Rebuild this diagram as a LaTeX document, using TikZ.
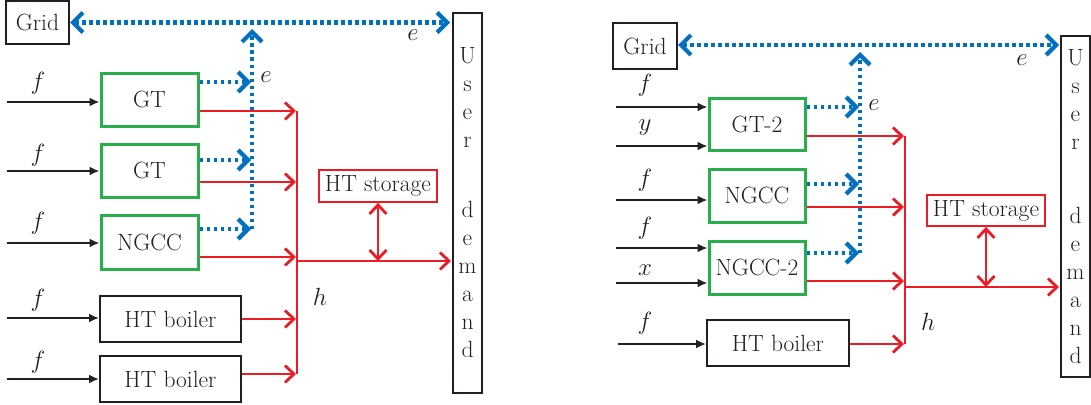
\documentclass[tikz,border=0pt]{standalone}
\usetikzlibrary{arrows.meta}
\definecolor{ered}{RGB}{237,28,36}
\definecolor{eblue}{RGB}{0,112,192}
\definecolor{egreen}{RGB}{40,175,75}
\definecolor{eblack}{RGB}{35,31,32}
\begin{document}
\begin{tikzpicture}[x=1pt,y=-1pt,
  every node/.style={font=\fontsize{23.5}{28}\selectfont, text=eblack},
  blk/.style={draw=eblack, line width=2pt, inner sep=0pt},
  grn/.style={draw=egreen, line width=3pt, inner sep=0pt, minimum width=97pt, minimum height=53pt},
  stor/.style={draw=ered, line width=1.8pt, inner sep=0pt, minimum width=118pt, minimum height=32pt},
  lbl/.style={inner sep=0pt},
  fin/.style={draw=eblack, line width=2.6pt, -{Latex[length=10pt,width=9pt]}},
  hflow/.style={draw=ered, line width=2.8pt, shorten >=1pt, -{Straight Barb[length=9pt,width=17pt]}},
  hbus/.style={draw=ered, line width=2.8pt},
  hdbl/.style={draw=ered, line width=2.8pt, {Straight Barb[length=9pt,width=17pt]}-{Straight Barb[length=9pt,width=17pt]}},
  eflow/.style={draw=eblue, line width=4.2pt, dash pattern=on 3.5pt off 3.5pt, -{Straight Barb[length=10pt,width=20pt]}},
  eboth/.style={draw=eblue, line width=4.2pt, dash pattern=on 3.5pt off 3.5pt, {Straight Barb[length=10pt,width=20pt]}-{Straight Barb[length=10pt,width=20pt]}}
]
\useasboundingbox (0,0) rectangle (1091,404);

% ================= LEFT =================
\node[blk, minimum width=63pt, minimum height=43pt] (grid1) at (37.5,22.5) {Grid};
\node[blk, minimum width=29pt, minimum height=380pt, align=center] (user1) at (467.5,203) {U\\s\\e\\r\\[42pt]d\\e\\m\\a\\n\\d};
\node[grn] (gt1a) at (149.5,99.5) {GT};
\node[grn] (gt1b) at (149.5,170.5) {GT};
\node[grn, minimum height=54pt] (ngcc1) at (149.5,242) {NGCC};
\node[blk, minimum width=141pt, minimum height=46pt] (boil1a) at (170.5,319) {HT boiler};
\node[blk, minimum width=141pt, minimum height=46pt] (boil1b) at (170.5,379) {HT boiler};
\node[stor] (store1) at (378,186) {HT storage};

% fuel inputs
\coordinate (i1a) at (7,102);
\coordinate (i1b) at (7,171);
\coordinate (i1c) at (7,243);
\coordinate (i1d) at (7,318);
\coordinate (i1e) at (7,379);
\draw[fin] (i1a) -- (gt1a.west |- i1a);
\draw[fin] (i1b) -- (gt1b.west |- i1b);
\draw[fin] (i1c) -- (ngcc1.west |- i1c);
\draw[fin] (i1d) -- (boil1a.west |- i1d);
\draw[fin] (i1e) -- (boil1b.west |- i1e);
\node[lbl] (f1a) at (38,83) {$f$};
\node[lbl] (f1b) at (38,155) {$f$};
\node[lbl] (f1c) at (38,223) {$f$};
\node[lbl] (f1d) at (38,300) {$f$};
\node[lbl] (f1e) at (38,362) {$f$};

% electricity
\coordinate (ev1b) at (252,229);
\coordinate (ev1t) at (252,29);
\coordinate (ea1) at (251,82);
\coordinate (eb1) at (251,160);
\draw[eflow] (ev1b) -- (ev1t);
\draw[eflow] (gt1a.east |- ea1) -- (ea1);
\draw[eflow] (gt1b.east |- eb1) -- (eb1);
\draw[eflow] (ngcc1.east |- ev1b) -- ([xshift=-1pt]ev1b);
\draw[eboth] (grid1.east) -- ([xshift=-2pt]grid1.east -| user1.west);
\node[lbl] (e1t) at (413,35) {$e$};
\node[lbl] (e1m) at (266,77) {$e$};

% heat
\coordinate (bt1) at (297,111);
\coordinate (bb1) at (297,374);
\coordinate (bm1) at (297,261);
\coordinate (sj1) at (378,261);
\coordinate (r1b) at (297,182);
\coordinate (r1c) at (297,257);
\draw[hbus] (bt1) -- (bb1);
\draw[hflow] (gt1a.east |- bt1) -- (bt1);
\draw[hflow] (gt1b.east |- r1b) -- (r1b);
\draw[hflow] (ngcc1.east |- r1c) -- (r1c);
\draw[hflow] (boil1a.east) -- (boil1a.east -| bt1);
\draw[hflow] (boil1b.east |- bb1) -- (bb1);
\draw[hflow] (bm1) -- (bm1 -| user1.west);
\draw[hdbl] (store1.south) -- (sj1);
\node[lbl] (h1) at (320,297) {$h$};

% ================= RIGHT =================
\node[blk, minimum width=64pt, minimum height=46pt] (grid2) at (645,46) {Grid};
\node[blk, minimum width=29pt, minimum height=341pt, align=center] (user2) at (1075.5,206.5) {U\\s\\e\\r\\[46pt]d\\e\\m\\a\\n\\d};
\node[grn, minimum width=96pt, minimum height=52pt] (gt2) at (757,124) {GT-2};
\node[grn, minimum width=96pt] (ngcc2) at (757,195.5) {NGCC};
\node[grn, minimum width=96pt] (ngccx2) at (757,267.5) {NGCC-2};
\node[blk, minimum width=142pt, minimum height=46pt] (boil2) at (778,343) {HT boiler};
\node[stor, minimum height=31pt] (store2) at (986,210.5) {HT storage};

% inputs
\coordinate (i2a) at (616,107);
\coordinate (i2b) at (616,146);
\coordinate (i2c) at (616,200);
\coordinate (i2d) at (616,248);
\coordinate (i2e) at (616,283);
\coordinate (i2f) at (618,344);
\draw[fin] (i2a) -- (gt2.west |- i2a);
\draw[fin] (i2b) -- (gt2.west |- i2b);
\draw[fin] (i2c) -- (ngcc2.west |- i2c);
\draw[fin] (i2d) -- (ngccx2.west |- i2d);
\draw[fin] (i2e) -- (ngccx2.west |- i2e);
\draw[fin] (i2f) -- (boil2.west |- i2f);
\node[lbl] (f2a) at (645,85) {$f$};
\node[lbl] (y2b) at (645,128) {$y$};
\node[lbl] (f2c) at (645,180) {$f$};
\node[lbl] (f2d) at (645,228) {$f$};
\node[lbl] (x2e) at (645,270) {$x$};
\node[lbl] (f2f) at (645,323) {$f$};

% electricity
\coordinate (ev2b) at (860,253);
\coordinate (ev2t) at (860,52);
\coordinate (ea2) at (859,107);
\coordinate (eb2) at (859,184);
\coordinate (et2) at (1059,45);
\draw[eflow] (ev2b) -- (ev2t);
\draw[eflow] (gt2.east |- ea2) -- (ea2);
\draw[eflow] (ngcc2.east |- eb2) -- (eb2);
\draw[eflow] (ngccx2.east |- ev2b) -- ([xshift=-1pt]ev2b);
\draw[eboth] (grid2.east |- et2) -- (et2);
\node[lbl] (e2t) at (1022,60) {$e$};
\node[lbl] (e2m) at (874,105) {$e$};

% heat
\coordinate (bt2) at (905,136);
\coordinate (bb2) at (905,344);
\coordinate (bm2) at (905,287);
\coordinate (sj2) at (986,287);
\coordinate (r2b) at (905,207);
\coordinate (r2c) at (905,281);
\draw[hbus] (bt2) -- (bb2);
\draw[hflow] (gt2.east |- bt2) -- (bt2);
\draw[hflow] (ngcc2.east |- r2b) -- (r2b);
\draw[hflow] (ngccx2.east |- r2c) -- (r2c);
\draw[hflow] (boil2.east |- bb2) -- (bb2);
\draw[hflow] (bm2) -- (bm2 -| user2.west);
\draw[hdbl] (store2.south) -- (sj2);
\node[lbl] (h2) at (928,322) {$h$};
\end{tikzpicture}
\end{document}
